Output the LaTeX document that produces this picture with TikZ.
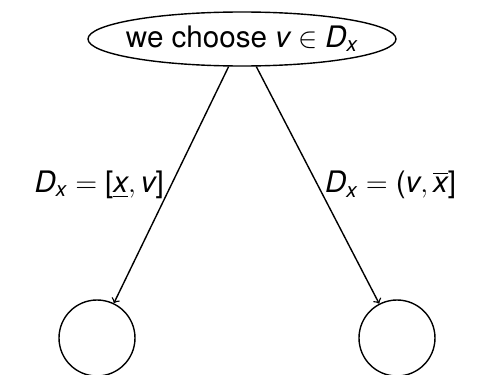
\documentclass[tikz,border=0pt]{standalone}
\usepackage{amsmath}
\usepackage{fontspec}
\setmainfont{TeX Gyre Heros}
\usepackage{tikz}
\usetikzlibrary{shapes.geometric,arrows}
\newcommand{\vi}[1]{\text{\itshape #1}}

\begin{document}
\begin{tikzpicture}[x=0.5pt, y=-0.5pt,
  choice/.style={ellipse, draw, minimum width=154pt, minimum height=27pt, inner xsep=-15pt, inner ysep=0pt},
  leaf/.style={circle, draw, minimum size=38pt},
  arrow/.style={->, line width=0.7pt},
  every node/.style={font=\fontsize{14.8}{17}\selectfont, line width=0.7pt}
]
  \useasboundingbox (0,0) rectangle (478,375);

  % decision node
  \node[choice] (root) at (242,39) {we choose $\vi{v} \in \vi{D}_{\vi{x}}$};

  % branches
  \node[leaf] (lo) at (97,338) {};
  \node[leaf] (hi) at (397,338) {};

  % edges with the split domains
  \draw[arrow] (root) -- node[left] {$\vi{D}_{\vi{x}} = \text{[}\underline{\vi{x}}, \vi{v}\text{]}$} (lo);
  \draw[arrow] (root) -- node[right] {$\vi{D}_{\vi{x}} = \text{(}\vi{v}, \overline{\vi{x}}\text{]}$} (hi);
\end{tikzpicture}
\end{document}
